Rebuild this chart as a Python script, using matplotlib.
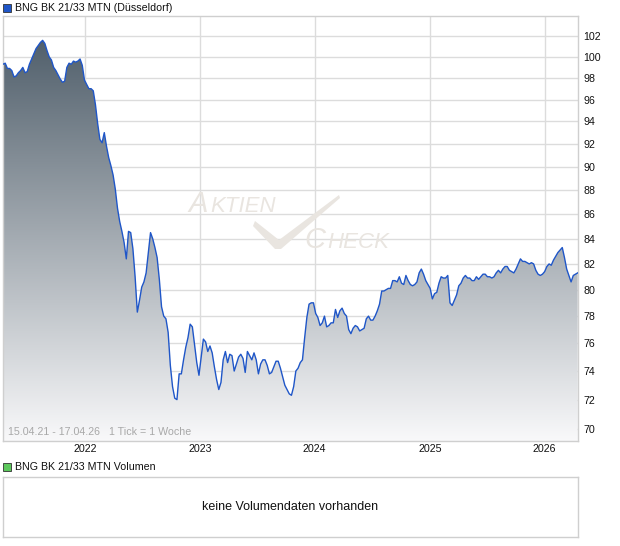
import numpy as np
import pandas as pd
import matplotlib
matplotlib.use("Agg")
import matplotlib.pyplot as plt
from matplotlib.ticker import FixedLocator, FixedFormatter, NullLocator

plt.rcParams['font.family'] = ['Liberation Sans', 'DejaVu Sans']

title = "BNG BK 21/33 MTN (Düsseldorf)"
vol_title = "BNG BK 21/33 MTN Volumen"
range_text = "15.04.21 - 17.04.26   1 Tick = 1 Woche"
no_vol_text = "keine Volumendaten vorhanden"

start = "2021-04-15"
end = "2026-04-17"

# weekly closing prices
price = [
    99.3, 99.4, 98.9, 98.9, 98.7, 98.1, 98.2, 98.5, 98.7, 99.0,
    98.5, 98.6, 99.3, 99.8, 100.3, 100.8, 101.1, 101.4, 101.6, 101.3,
    100.6, 100.0, 99.7, 99.0, 98.7, 98.3, 97.9, 97.6, 97.7, 99.0,
    99.4, 99.3, 99.6, 99.5, 99.6, 99.8, 99.2, 97.8, 97.4, 97.0,
    97.0, 96.8, 95.5, 93.8, 92.4, 92.1, 93.0, 91.8, 90.8, 90.1,
    89.3, 88.1, 86.5, 85.4, 84.6, 83.7, 82.4, 84.6, 84.5, 83.2,
    81.0, 78.3, 79.2, 80.2, 80.6, 81.3, 82.9, 84.5, 84.0, 83.3,
    82.5, 80.8, 78.7, 78.0, 77.8, 76.8, 74.4, 72.9, 72.1, 72.0,
    73.8, 73.8, 74.8, 75.7, 76.4, 77.4, 77.2, 75.9, 74.6, 73.7,
    75.0, 76.3, 76.1, 75.4, 75.8, 75.3, 74.3, 73.4, 72.7, 73.2,
    74.8, 75.4, 74.6, 75.2, 75.1, 74.0, 74.5, 75.0, 75.2, 74.9,
    73.9, 75.4, 75.1, 74.8, 75.3, 74.8, 73.8, 74.5, 74.8, 74.8,
    74.4, 73.8, 73.9, 74.3, 74.7, 74.7, 74.2, 73.6, 73.0, 72.7,
    72.4, 72.3, 72.9, 74.0, 74.2, 74.6, 74.8, 76.4, 77.9, 78.9,
    79.0, 79.0, 78.2, 77.9, 77.3, 77.5, 78.0, 77.2, 77.3, 77.5,
    77.5, 78.5, 77.9, 78.4, 78.6, 78.2, 78.0, 77.0, 76.7, 77.1,
    77.3, 77.2, 76.9, 77.0, 77.1, 77.8, 78.0, 77.7, 77.7, 78.0,
    78.4, 78.9, 79.9, 79.9, 80.0, 80.1, 80.1, 80.7, 80.7, 80.6,
    81.0, 80.5, 80.4, 81.1, 80.7, 80.4, 80.3, 80.4, 80.6, 81.3,
    81.6, 81.2, 80.7, 80.4, 80.1, 79.3, 79.7, 79.8, 80.5, 81.0,
    80.9, 80.9, 81.1, 79.0, 78.8, 79.2, 79.6, 80.3, 80.5, 80.9,
    81.1, 80.9, 80.9, 80.7, 80.7, 81.0, 80.8, 81.0, 81.2, 81.2,
    81.0, 81.0, 80.9, 81.0, 81.3, 81.5, 81.3, 81.6, 81.8, 81.8,
    81.5, 81.4, 81.3, 81.6, 82.0, 82.4, 82.2, 82.2, 82.1, 82.0,
    82.1, 82.0, 81.5, 81.2, 81.1, 81.2, 81.4, 81.8, 82.0, 81.9,
    82.3, 82.6, 82.9, 83.1, 83.3, 82.5, 81.6, 81.1, 80.6, 81.1,
    81.2, 81.3,
]
dates = pd.date_range(start, periods=len(price), freq="7D")

years = [2022, 2023, 2024, 2025, 2026]
yticks = [70, 72, 74, 76, 78, 80, 82, 84, 86, 88, 90, 92, 94, 96, 98, 100, 102]

W, H = 620, 546
fig = plt.figure(figsize=(W / 100, H / 100), dpi=100)

def box(x0, y0, x1, y1):
    return [x0 / W, 1 - y1 / H, (x1 - x0) / W, (y1 - y0) / H]

# pixel position inside the price panel -> axes fraction
def ap(x, y):
    return (x - 3) / 575, (441 - y) / 425

ax = fig.add_axes(box(3, 16, 578, 441))
ax.set_yscale('log')
ymin, ymax = 69.2, 104.0

# gradient fill under the line
grad = np.linspace(0, 1, 256).reshape(-1, 1)
top = np.array([0.28, 0.34, 0.39])
bot = np.array([0.975, 0.975, 0.98])
rgb = top + grad[:, :, None] * (bot - top)
im = ax.imshow(rgb, extent=[0, 1, 0, 1], transform=ax.transAxes,
               aspect='auto', origin='upper', zorder=2)
poly = ax.fill_between(dates, price, ymin, facecolor='none', edgecolor='none')
im.set_clip_path(poly.get_paths()[0], transform=ax.transData)

ax.plot(dates, price, color='#1f56c8', lw=1.0, zorder=3)

ax.set_ylim(ymin, ymax)
ax.set_xlim(pd.Timestamp(start), pd.Timestamp(end))

ax.yaxis.set_major_locator(FixedLocator(yticks))
ax.yaxis.set_major_formatter(FixedFormatter([str(v) for v in yticks]))
ax.yaxis.set_minor_locator(NullLocator())
ax.yaxis.tick_right()
xt = [pd.Timestamp(f"{y}-01-01") for y in years]
ax.set_xticks(xt)
ax.set_xticklabels([str(y) for y in years])
ax.tick_params(axis='both', length=0, labelsize=7.7, colors='#111111')
ax.tick_params(axis='y', pad=4)
ax.tick_params(axis='x', pad=2)
ax.grid(True, color='#dcdcdc', lw=1, zorder=1)
ax.set_axisbelow(True)
for s in ax.spines.values():
    s.set_color('#cfcfcf')
    s.set_linewidth(1)

# watermark
wm = '#e9e5e0'
x, y = ap(188, 212)
ax.text(x, y, "A", transform=ax.transAxes, fontsize=21, style='italic',
        color=wm, va='baseline', zorder=1.5)
x, y = ap(210, 212)
ax.text(x, y, "KTIEN", transform=ax.transAxes, fontsize=16, style='italic',
        color=wm, va='baseline', zorder=1.5)
x, y = ap(304, 248)
ax.text(x, y, "C", transform=ax.transAxes, fontsize=21, style='italic',
        color=wm, va='baseline', zorder=1.5)
x, y = ap(327, 248)
ax.text(x, y, "HECK", transform=ax.transAxes, fontsize=16, style='italic',
        color=wm, va='baseline', zorder=1.5)
tick_px = [(255, 221), (279, 240), (339, 195), (340, 198), (281, 249),
           (275, 249), (253, 226)]
ax.add_patch(plt.Polygon([ap(px, py) for px, py in tick_px], closed=True,
                         transform=ax.transAxes, facecolor=wm, edgecolor='none',
                         zorder=1.5))

ax.text(0.008, 0.01, range_text, transform=ax.transAxes, fontsize=7.7,
        color='#a8a8a8', va='bottom', ha='left', zorder=4)

# header
fig.patches.append(plt.Rectangle((3 / W, 1 - 12 / H), 8 / W, 8 / H,
                                 transform=fig.transFigure, facecolor='#1f56c8',
                                 edgecolor='#333333', lw=0.6))
fig.text(15 / W, 1 - 8 / H, title, fontsize=7.7, va='center', ha='left', color='#111111')

# volume panel
fig.patches.append(plt.Rectangle((3 / W, 1 - 471 / H), 8 / W, 8 / H,
                                 transform=fig.transFigure, facecolor='#5cc85c',
                                 edgecolor='#333333', lw=0.6))
fig.text(15 / W, 1 - 467 / H, vol_title, fontsize=7.7, va='center', ha='left', color='#111111')

vax = fig.add_axes(box(3, 477, 578, 537))
vax.set_xticks([])
vax.set_yticks([])
for s in vax.spines.values():
    s.set_color('#cfcfcf')
    s.set_linewidth(1)
vax.text(0.5, 0.5, no_vol_text, transform=vax.transAxes, ha='center', va='center',
         fontsize=9, color='#111111')

fig.savefig("out.png", dpi=100)
